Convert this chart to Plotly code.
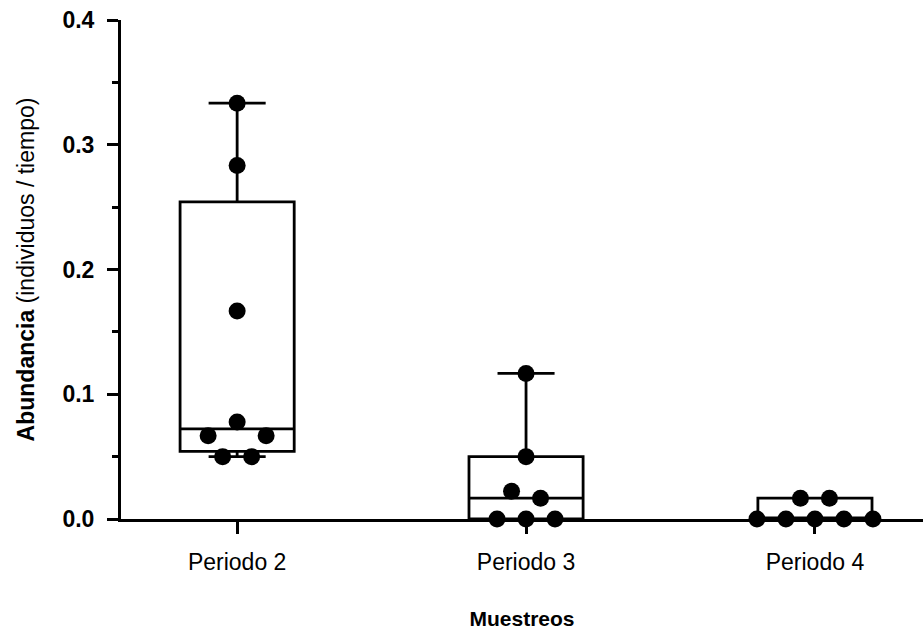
import numpy as np
import plotly.graph_objects as go

# Sampling periods and abundance values (individuals / time)
categories = ["Periodo 2", "Periodo 3", "Periodo 4"]
periodo_2 = [0.3333, 0.2833, 0.1667, 0.0778, 0.0667, 0.0667, 0.05, 0.05]
periodo_3 = [0.1167, 0.05, 0.0222, 0.0167, 0.0, 0.0, 0.0]
periodo_4 = [0.0167, 0.0167, 0.0, 0.0, 0.0, 0.0, 0.0]
series = [periodo_2, periodo_3, periodo_4]
y_ticks = [0.0, 0.1, 0.2, 0.3, 0.4]

FONT = "Arial, Liberation Sans, Helvetica, sans-serif"
W, H = 923, 631
MARGIN = dict(l=121, r=0, t=20, b=112)
X_RANGE = [-0.402, 2.374]
Y_RANGE = [0.0, 0.4]

# pixel scale of each axis, used to lay out the point swarm
px_per_x = (W - MARGIN["l"] - MARGIN["r"]) / (X_RANGE[1] - X_RANGE[0])
px_per_y = (H - MARGIN["t"] - MARGIN["b"]) / (Y_RANGE[1] - Y_RANGE[0])
SPACING_PX = 29.0
ROW_TOL = 0.01


def swarm_offsets(values):
    """Group close values into rows and spread each row horizontally."""
    vals = sorted(values)
    rows = []
    for v in vals:
        if rows and v - rows[-1][0] < ROW_TOL:
            rows[-1].append(v)
        else:
            rows.append([v])
    xs, ys = [], []
    prev_offsets, prev_y = None, None
    step = SPACING_PX / px_per_x
    for row in rows:
        row = sorted(row, reverse=True)
        k = len(row)
        offs = [(i - (k - 1) / 2) * step for i in range(k)]
        ymean = np.mean(row)
        if prev_offsets is not None and (ymean - prev_y) * px_per_y < SPACING_PX:
            if any(abs(a - b) < 1e-9 for a in offs for b in prev_offsets):
                offs = [o + np.sign(o) * step / 2 for o in offs]
        xs.extend(offs)
        ys.extend(row)
        prev_offsets, prev_y = offs, ymean
    return xs, ys


fig = go.Figure()

for i, vals in enumerate(series):
    q1, med, q3 = np.percentile(vals, [25, 50, 75], method="weibull")
    fig.add_trace(go.Box(
        x=[i], q1=[q1], median=[med], q3=[q3],
        lowerfence=[min(vals)], upperfence=[max(vals)],
        width=0.395, whiskerwidth=0.5,
        fillcolor="white", line=dict(color="black", width=2.8),
        boxpoints=False, hoverinfo="skip", showlegend=False,
    ))

for i, vals in enumerate(series):
    offs, ys = swarm_offsets(vals)
    fig.add_trace(go.Scatter(
        x=[i + o for o in offs], y=ys, mode="markers",
        marker=dict(color="black", size=17, line=dict(width=0)),
        cliponaxis=False, showlegend=False,
    ))

fig.update_layout(
    width=W, height=H, margin=MARGIN,
    paper_bgcolor="white", plot_bgcolor="white",
    font=dict(family=FONT, color="black"),
)

fig.update_xaxes(
    range=X_RANGE, tickmode="array", tickvals=list(range(len(categories))),
    ticktext=categories, tickfont=dict(size=23, family=FONT),
    ticks="outside", ticklen=12, tickwidth=2.8, tickcolor="black",
    showline=True, linecolor="black", linewidth=3,
    showgrid=False, zeroline=False, ticklabelstandoff=8,
    title=dict(text="<b>Muestreos</b>", font=dict(size=21, family=FONT), standoff=38),
)

fig.update_yaxes(
    range=Y_RANGE, tickmode="array", tickvals=y_ticks,
    ticktext=[f"<b>{t:.1f}</b>" for t in y_ticks],
    tickfont=dict(size=23, family=FONT),
    ticks="outside", ticklen=11, tickwidth=2.8, tickcolor="black",
    minor=dict(dtick=0.05, ticks="outside", ticklen=6, tickwidth=2.8, tickcolor="black"),
    showline=True, linecolor="black", linewidth=3,
    showgrid=False, zeroline=False, ticklabelstandoff=8,
    title=dict(text="<b>Abundancia</b> (individuos / tiempo)",
               font=dict(size=23, family=FONT), standoff=22),
)

fig.write_html("out.html")
